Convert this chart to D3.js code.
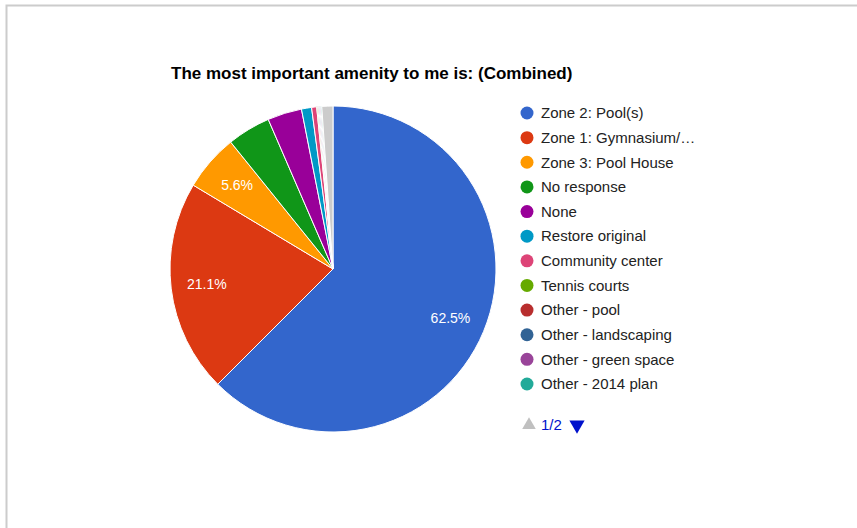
<!DOCTYPE html>
<html>
<head>
<meta charset="utf-8">
<script src="https://cdn.jsdelivr.net/npm/d3@7/dist/d3.min.js"></script>
<style>
  html, body { margin: 0; padding: 0; background: #fff; }
  svg { display: block; }
</style>
</head>
<body>
<script>
const title = "The most important amenity to me is: (Combined)";
const categories = ["Zone 2: Pool(s)", "Zone 1: Gymnasium/\u2026", "Zone 3: Pool House", "No response", "None",
  "Restore original", "Community center", "Tennis courts", "Other - pool", "Other - landscaping",
  "Other - green space", "Other - 2014 plan", "Other"];
const values = [62.5, 21.1, 5.6, 4.3, 3.4, 1.0, 0.5, 0.1, 0.1, 0.1, 0.1, 0.1, 1.1];
const colors = ["#3366cc", "#dc3912", "#ff9900", "#109618", "#990099", "#0099c6", "#dd4477",
  "#66aa00", "#b82e2e", "#316395", "#994499", "#22aa99", "#cccccc"];
const legendCount = 12;
const pageLabel = "1/2";

const W = 857, H = 528;
const FONT = "Arial, 'Liberation Sans', sans-serif";
const svg = d3.select("body").append("svg").attr("width", W).attr("height", H);

// frame
svg.append("rect").attr("x", 6.5).attr("y", 5.5).attr("width", W + 10).attr("height", H + 10)
  .attr("fill", "#fff").attr("stroke", "#cccccc").attr("stroke-width", 2);

// title
svg.append("text").attr("x", 171).attr("y", 79)
  .attr("font-family", FONT).attr("font-weight", "bold")
  .attr("font-size", 17).attr("fill", "#000").text(title);

const cx = 333, cy = 269, r = 163;
const data = categories.map((c, i) => ({ name: c, value: values[i], color: colors[i] }));
const pie = d3.pie().value(d => d.value).sort(null);
const arcs = pie(data);
const arc = d3.arc().innerRadius(0).outerRadius(r);
const labelArc = d3.arc().innerRadius(r * 0.78).outerRadius(r * 0.78);

const g = svg.append("g").attr("transform", `translate(${cx},${cy})`);
g.selectAll("path").data(arcs).join("path")
  .attr("d", arc).attr("fill", d => d.data.color)
  .attr("stroke", "#fff").attr("stroke-width", 1);

g.selectAll("text.lbl").data(arcs.filter(d => d.data.value >= 5)).join("text")
  .attr("class", "lbl")
  .attr("transform", d => `translate(${labelArc.centroid(d)})`)
  .attr("text-anchor", "middle").attr("dy", "0.35em")
  .attr("font-family", FONT).attr("font-size", 14)
  .attr("fill", "#fff").text(d => d.data.value.toFixed(1) + "%");

// legend
const ly = d3.scalePoint().domain(d3.range(legendCount)).range([113, 384]);
const lg = svg.append("g");
const items = lg.selectAll("g").data(data.slice(0, legendCount)).join("g")
  .attr("transform", (d, i) => `translate(527,${ly(i)})`);
items.append("circle").attr("r", 6.5).attr("fill", d => d.color);
items.append("text").attr("x", 14).attr("dy", "0.35em")
  .attr("font-family", FONT).attr("font-size", 15)
  .attr("fill", "#222").text(d => d.name);

// pager
const py = 425;
svg.append("path").attr("d", d3.symbol().type(d3.symbolTriangle).size(80)())
  .attr("transform", `translate(529,${py})`).attr("fill", "#c0c0c0");
svg.append("text").attr("x", 541).attr("y", py).attr("dy", "0.35em")
  .attr("font-family", FONT).attr("font-size", 15)
  .attr("fill", "#0011cc").text(pageLabel);
svg.append("path").attr("d", d3.symbol().type(d3.symbolTriangle).size(100)())
  .attr("transform", `translate(577,${py}) rotate(180)`).attr("fill", "#0011cc");
</script>
</body>
</html>
